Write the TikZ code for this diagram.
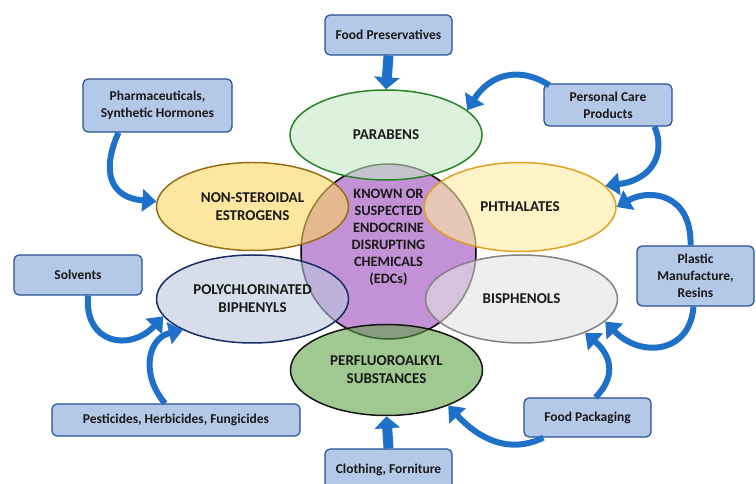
\documentclass[tikz,border=0pt]{standalone}
\usepackage{fontspec}
\setmainfont{Carlito}
\usetikzlibrary{shapes.geometric,arrows.meta,calc}
\definecolor{purp}{RGB}{195,145,213}
\definecolor{boxfill}{RGB}{180,200,232}
\definecolor{boxline}{RGB}{40,80,150}
\definecolor{arrowblue}{RGB}{31,112,200}
\definecolor{txt}{RGB}{25,25,25}
\definecolor{parF}{RGB}{198,233,198}\definecolor{parD}{RGB}{40,130,40}
\definecolor{nseF}{RGB}{250,213,97}\definecolor{nseD}{RGB}{150,110,20}
\definecolor{phtF}{RGB}{255,235,163}\definecolor{phtD}{RGB}{225,160,30}
\definecolor{pcbF}{RGB}{185,200,220}\definecolor{pcbD}{RGB}{25,45,100}
\definecolor{bisF}{RGB}{227,227,227}\definecolor{bisD}{RGB}{130,130,130}
\definecolor{pfaF}{RGB}{97,163,72}\definecolor{pfaD}{RGB}{20,20,20}
\tikzset{
  srcbox/.style={draw=boxline, line width=1.2pt, fill=boxfill, rounded corners=5pt,
    align=center, text=txt, font=\bfseries\fontsize{13.5}{17}\selectfont, inner sep=0pt},
  chem/.style={ellipse, line width=1.5pt, fill opacity=0.6, text opacity=1,
    minimum width=192pt, minimum height=90pt, inner sep=0pt, align=center,
    text=txt, font=\bfseries\fontsize{15}{18}\selectfont},
  flow/.style={draw=arrowblue, line width=6pt, -{Triangle[length=14pt,width=22pt]}},
  straightflow/.style={draw=arrowblue, line width=10pt, -{Triangle[length=12pt,width=25pt]}}
}
\begin{document}
\begin{tikzpicture}[x=1pt,y=1pt]
\useasboundingbox (0,0) rectangle (756,484);
% central circle
\node[circle, draw=black, line width=1.5pt, fill=purp, minimum size=175pt, inner sep=0pt] (edc) at (388.5,232.5) {};
% chemical ellipses
\node[chem, draw=parD, fill=parF] (par) at (386,349) {PARABENS};
\node[chem, draw=nseD, fill=nseF, minimum height=88pt] (nse) at (252.5,277.5) {NON-STEROIDAL\\ESTROGENS};
\node[chem, draw=phtD, fill=phtF, minimum height=89pt] (pht) at (520,277) {PHTHALATES};
\node[chem, draw=pcbD, fill=pcbF, minimum height=88pt] (pcb) at (252.5,185) {POLYCHLORINATED\\BIPHENYLS};
\node[chem, draw=bisD, fill=bisF, minimum height=88pt] (bis) at (521.5,185) {BISPHENOLS};
\node[chem, draw=pfaD, fill=pfaF, minimum height=91pt] (pfa) at (386.5,114) {PERFLUOROALKYL\\SUBSTANCES};
% center text
\node[align=center, text=txt, font=\bfseries\fontsize{14.3}{17}\selectfont] (edctxt) at (388.5,247)
  {KNOWN OR\\SUSPECTED\\ENDOCRINE\\DISRUPTING\\CHEMICALS\\(EDCs)};
% source boxes
\node[srcbox, minimum width=127pt, minimum height=40pt] (fp) at (388.5,449) {Food Preservatives};
\node[srcbox, minimum width=149pt, minimum height=53pt] (pharma) at (157.5,378.5) {Pharmaceuticals,\\Synthetic Hormones};
\node[srcbox, minimum width=128pt, minimum height=42pt] (pcp) at (608,379) {Personal Care\\Products};
\node[srcbox, minimum width=117pt, minimum height=60pt] (plas) at (695.5,208) {Plastic\\Manufacture,\\Resins};
\node[srcbox, minimum width=128pt, minimum height=40pt] (solv) at (78,209) {Solvents};
\node[srcbox, minimum width=248pt, minimum height=32pt] (pest) at (176,64) {Pesticides, Herbicides, Fungicides};
\node[srcbox, minimum width=127pt, minimum height=42pt] (cloth) at (388.5,14) {Clothing, Forniture};
\node[srcbox, minimum width=127pt, minimum height=39pt] (fpk) at (587.5,66.5) {Food Packaging};
% arrows
\draw[straightflow] (fp.south) -- (par.north);
\draw[straightflow] (cloth.north) -- (pfa.south);
\draw[flow] ($(pharma.south)+(-39,0)$) .. controls (100,310) and (112,286) .. (nse.177);
\draw[flow] ($(pcp.north west)+(6,-2)$) .. controls (520,418) and (490,410) .. (par.17);
\draw[flow] ($(pcp.south east)+(-18,0)$) .. controls (666,330) and (652,304) .. (pht.14);
\draw[flow] ($(plas.north)+(-5,0)$) .. controls (692,290) and (650,296) .. (pht.east);
\draw[flow] ($(plas.south)+(-2,0)$) .. controls (690,130) and (640,126) .. (bis.-15);
\draw[flow] ($(solv.south)+(10,0)$) .. controls (84,140) and (130,132) .. (pcb.191);
\draw[flow] ($(pest.north)+(-11,0)$) .. controls (140,110) and (148,146) .. (pcb.204);
\draw[flow] ($(fpk.north)+(8,0)$) .. controls (614,105) and (614,126) .. (bis.-28);
\draw[flow] ($(fpk.south west)+(20,0)$) .. controls (510,30) and (480,44) .. (pfa.-30);
\end{tikzpicture}
\end{document}
